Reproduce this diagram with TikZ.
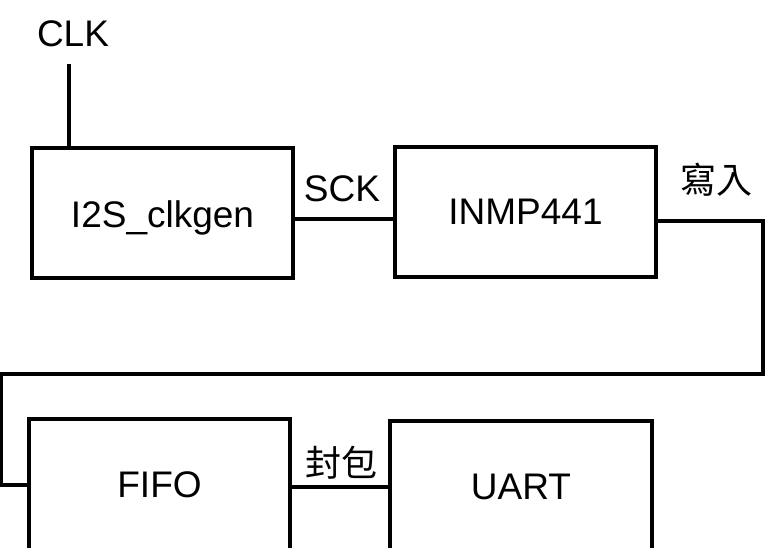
\documentclass[tikz,border=0pt]{standalone}
\usepackage{fontspec}
\setmainfont{Liberation Sans}
\newfontfamily\cjk{Noto Sans CJK TC}
\begin{document}
\begin{tikzpicture}[x=1pt,y=-1pt,
  blk/.style={draw,line width=3.3pt,inner sep=0pt,font=\fontsize{37}{40}\selectfont},
  lbl/.style={inner sep=0pt,font=\fontsize{37}{40}\selectfont},
  cjklbl/.style={inner sep=0pt,font=\cjk\fontsize{36}{40}\selectfont},
  wire/.style={line width=3.3pt}]
\useasboundingbox (0,0) rectangle (765,548);
\clip (0,0) rectangle (765,548);
\node[blk,minimum width=261pt,minimum height=130pt] (clk) at (162.5,213) {};
\node[lbl] (clkt) at (162.5,218) {I2S\_clkgen};
\node[blk,minimum width=261pt,minimum height=130pt] (inmp) at (525.5,212) {INMP441};
\node[blk,minimum width=261pt,minimum height=132pt] (fifo) at (159.5,485) {FIFO};
\node[blk,minimum width=262pt,minimum height=132pt] (uart) at (521,487) {UART};
\node[lbl] (clkin) at (73,34) {CLK};
\node[lbl] (sck) at (342,189) {SCK};
\node[cjklbl] (wr) at (716,180) {寫入};
\node[cjklbl] (pk) at (341,463) {封包};
\coordinate (c0) at (69,64);
\coordinate (r1) at (763,221);
\coordinate (r2) at (763,374);
\coordinate (l1) at (1.5,374);
\coordinate (l2) at (1.5,485);
\draw[wire] (c0) -- (c0 |- clk.north);
\draw[wire] (clk.east |- 0,219) -- (inmp.west |- 0,219);
\draw[wire] (inmp.east |- r1) -- (r1) -- (r2) -- (l1) -- (l2) -- (fifo.west |- l2);
\draw[wire] (fifo.east |- 0,487) -- (uart.west |- 0,487);
\end{tikzpicture}
\end{document}
